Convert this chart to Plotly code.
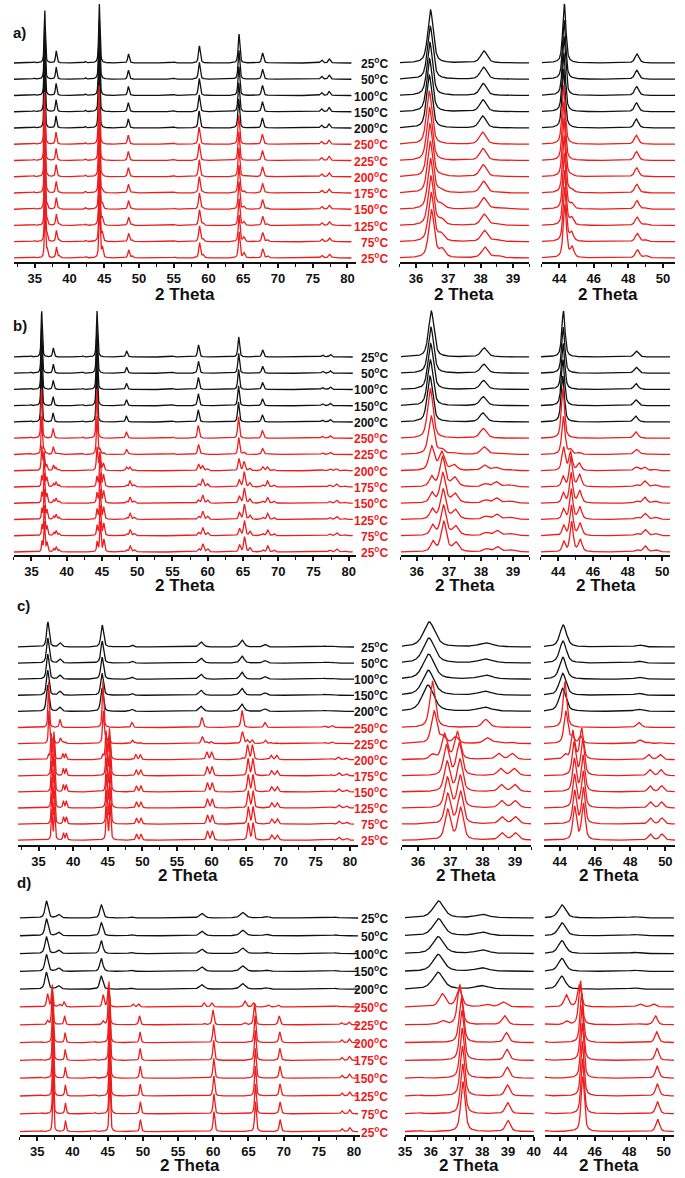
import numpy as np
import plotly.graph_objects as go

W, H = 685, 1178

# ---------------- labels ----------------
HEAT_LABELS = ["25", "50", "100", "150", "200"]
COOL_LABELS = ["250", "225", "200", "175", "150", "125", "75", "25"]

# ---------------- peak tables (2theta, height, fwhm) ----------------
# row a
A_C_POS = [34.9, 36.45, 38.1, 42.3, 44.3, 48.5, 55.1, 58.7, 64.4, 67.8, 76.3, 77.4]
A_C_H   = [1.0, 53, 12, 1.5, 59, 9, 1.0, 17, 29, 10, 3, 4]
A_C_W   = [0.25, 0.2, 0.24, 0.25, 0.22, 0.28, 0.3, 0.3, 0.28, 0.32, 0.35, 0.35]
A_T_POS = [36.78, 38.5, 44.72, 49.0, 59.2, 65.1, 68.5, 78.0]
A_T_H   = [8, 2, 10, 2, 3, 5, 2, 1]
A_T_W   = [0.22, 0.28, 0.25, 0.28, 0.32, 0.32, 0.32, 0.4]
# row b
B_C_POS = [34.9, 36.45, 38.1, 42.3, 44.3, 48.5, 55.1, 58.7, 64.4, 67.8, 76.3, 77.4]
B_C_H   = [1.0, 46, 9, 1.0, 46, 6, 1.0, 12, 20, 7, 2, 2.5]
B_C_W   = [0.25, 0.2, 0.24, 0.25, 0.22, 0.28, 0.3, 0.3, 0.28, 0.32, 0.35, 0.35]
B_T_POS = [36.48, 36.82, 37.2, 38.15, 38.5, 38.9, 44.3, 44.75, 45.25, 48.5, 49.0, 49.6,
           58.7, 59.3, 60.0, 64.5, 65.2, 66.0, 67.8, 68.5, 69.4, 77.3, 78.3, 79.5]
B_T_H   = [10, 30, 9, 3, 5, 2, 10, 30, 12, 2, 6, 2,
           3, 8, 3, 7, 15, 4, 2, 6, 2, 2, 3, 1]
B_T_W   = [0.17, 0.2, 0.22, 0.22, 0.22, 0.27, 0.2, 0.22, 0.25, 0.28, 0.28, 0.32,
           0.32, 0.32, 0.32, 0.32, 0.32, 0.32, 0.32, 0.32, 0.32, 0.4, 0.4, 0.4]
# row c
C_B_POS = [36.35, 38.1, 44.2, 48.5, 58.5, 64.4, 67.7, 76.3, 77.3]
C_B_H   = [25, 4, 22, 2, 5, 7, 2.5, 0.8, 1]
C_B_W   = [0.42, 0.5, 0.45, 0.5, 0.7, 0.7, 0.6, 0.8, 0.8]
C_C_POS = [36.45, 38.1, 44.3, 48.5, 58.6, 64.4, 67.7, 76.3, 77.4]
C_C_H   = [46, 8, 46, 5, 10, 17, 5, 1.5, 2]
C_C_W   = [0.2, 0.25, 0.25, 0.3, 0.35, 0.35, 0.35, 0.4, 0.4]
C_T_POS = [36.92, 37.32, 38.6, 39.02, 44.85, 45.35, 49.15, 49.8, 59.4, 60.1, 65.3, 66.0,
           68.7, 69.5, 77.3, 78.4, 79.5]
C_T_H   = [30, 32, 7, 7, 33, 36, 6, 6, 9, 9, 17, 17, 5, 5, 1, 3, 2]
C_T_W   = [0.2, 0.2, 0.22, 0.22, 0.24, 0.24, 0.28, 0.28, 0.32, 0.32, 0.32, 0.32,
           0.35, 0.35, 0.4, 0.4, 0.4]
# row d
D_B_POS = [36.3, 38.0, 44.1, 48.3, 58.4, 64.2, 67.5, 77.3]
D_B_H   = [17, 3.5, 13, 1.2, 4.5, 5.5, 1.5, 0.8]
D_B_W   = [0.5, 0.6, 0.5, 0.6, 0.8, 0.9, 0.8, 1.0]
D_M_POS = [36.45, 37.1, 38.15, 38.8, 44.35, 45.1, 48.6, 49.4, 58.7, 59.8, 64.5, 65.7,
           67.8, 69.2, 77.5, 78.5]
D_M_H   = [13, 18, 2.5, 5, 12, 22, 3, 3, 4, 4, 6, 4, 2, 2, 1, 1]
D_M_W   = [0.3, 0.25, 0.35, 0.3, 0.3, 0.25, 0.35, 0.3, 0.35, 0.35, 0.4, 0.35,
           0.4, 0.4, 0.5, 0.5]
D_T_POS = [35.6, 37.25, 39.0, 43.2, 45.3, 49.65, 60.1, 66.0, 69.5, 78.3, 79.4]
D_T_H   = [0.8, 50, 11, 1, 55, 12, 20, 30, 12, 3, 4]
D_T_W   = [0.3, 0.2, 0.22, 0.3, 0.22, 0.25, 0.28, 0.28, 0.3, 0.32, 0.32]

PATTERNS = {
    "aC": (A_C_POS, A_C_H, A_C_W), "aT": (A_T_POS, A_T_H, A_T_W),
    "bC": (B_C_POS, B_C_H, B_C_W), "bT": (B_T_POS, B_T_H, B_T_W),
    "cB": (C_B_POS, C_B_H, C_B_W), "cC": (C_C_POS, C_C_H, C_C_W), "cT": (C_T_POS, C_T_H, C_T_W),
    "dB": (D_B_POS, D_B_H, D_B_W), "dM": (D_M_POS, D_M_H, D_M_W), "dT": (D_T_POS, D_T_H, D_T_W),
}

# phase content of each pattern, top (25 C heating) to bottom (25 C cooling): (pattern, weight, shift)
ROW_A_MIX = [[("aC", 1, 0)], [("aC", 1, -0.01)], [("aC", 1, -0.02)], [("aC", 1, -0.03)], [("aC", 1, -0.04)],
             [("aC", 1, -0.04)], [("aC", 1, -0.03)], [("aC", 1, -0.02), ("aT", 0.1, 0)],
             [("aC", 0.97, -0.01), ("aT", 0.3, 0)], [("aC", 0.95, 0), ("aT", 0.5, 0)],
             [("aC", 0.93, 0.01), ("aT", 0.7, 0)], [("aC", 0.92, 0.02), ("aT", 0.85, 0)],
             [("aC", 0.9, 0.03), ("aT", 1.0, 0.03)]]
ROW_B_MIX = [[("bC", 1, 0)], [("bC", 1, -0.01)], [("bC", 1, -0.02)], [("bC", 1, -0.03)], [("bC", 1, -0.04)],
             [("bC", 1.08, -0.03)], [("bC", 0.8, 0), ("bT", 0.15, -0.05)],
             [("bC", 0.4, 0.02), ("bT", 0.6, -0.04)], [("bT", 1, -0.02)], [("bT", 1, -0.01)],
             [("bT", 1, 0)], [("bT", 1, 0.01)], [("bT", 1, 0.02)]]
ROW_C_MIX = [[("cB", 1, 0)], [("cB", 1, -0.01)], [("cB", 1, -0.02)], [("cB", 1, -0.03)], [("cB", 1.05, -0.04)],
             [("cC", 1, 0)], [("cC", 0.7, 0.05), ("cT", 0.2, -0.15)],
             [("cC", 0.1, 0), ("cT", 0.85, -0.1)], [("cT", 1, -0.04)], [("cT", 1, -0.02)],
             [("cT", 1, -0.01)], [("cT", 1, 0)], [("cT", 1, 0)]]
ROW_D_MIX = [[("dB", 1, 0)], [("dB", 1, 0)], [("dB", 1, -0.01)], [("dB", 1, -0.01)], [("dB", 1, -0.02)],
             [("dM", 1, 0)], [("dM", 0.3, 0), ("dT", 0.7, -0.12)],
             [("dT", 0.9, -0.06)], [("dT", 1, -0.04)], [("dT", 1, -0.03)],
             [("dT", 1, -0.02)], [("dT", 1, -0.01)], [("dT", 1, 0)]]

# ---------------- layout constants (pixels) ----------------
ROWS = [
    dict(mix=ROW_A_MIX, axis=262, top=0, base0=63, step=16.25,
         xd=[(7, 356), (401, 533), (546, 682)], xr=[(32, 81.2), (35.5, 39.5), (43, 50.7)],
         title_y=294, tag=("a)", 4, 33)),
    dict(mix=ROW_B_MIX, axis=555, top=296, base0=357, step=16.25,
         xd=[(7, 356), (402, 533), (545, 677)], xr=[(32.5, 81), (35.5, 39.5), (43, 50.45)],
         title_y=585, tag=("b)", 4, 325)),
    dict(mix=ROW_C_MIX, axis=845, top=588, base0=647, step=16.1,
         xd=[(11, 358), (403, 535), (548, 682)], xr=[(32, 81.1), (35.5, 39.5), (43.1, 50.55)],
         title_y=875, tag=("c)", 8, 605)),
    dict(mix=ROW_D_MIX, axis=1135, top=878, base0=918, step=17.8,
         xd=[(13, 360), (406, 538), (549, 681)], xr=[(32.5, 80.8), (34.99, 40.01), (43.1, 50.6)],
         title_y=1165, tag=("d)", 8, 882)),
]
BLACK = "#111111"
RED = "#ee1c1c"
FONT = "Liberation Sans"


def curve(x, parts):
    y = np.zeros_like(x)
    for name, wt, sh in parts:
        pos, hh, ww = PATTERNS[name]
        for p, h, w in zip(pos, hh, ww):
            d = (x - (p + sh)) / w
            y += wt * h * (0.6 / (1 + 4 * d * d) + 0.4 * np.exp(-4 * np.log(2) * d * d))
    return y


fig = go.Figure()
annotations = []
layout = {}
labels = HEAT_LABELS + COOL_LABELS

for r, row in enumerate(ROWS):
    span = row["axis"] - row["top"]
    ydom = [1 - row["axis"] / H, 1 - row["top"] / H]
    for c in range(3):
        idx = r * 3 + c + 1
        xs = "" if idx == 1 else str(idx)
        x0, x1 = row["xr"][c]
        if c == 0:
            xg = np.arange(x0, 80.6, 0.02)
            tk = dict(tick0=35, dtick=5, minor=dict(dtick=2.5, ticklen=3, tickwidth=1.3, ticks="outside", tickcolor=BLACK))
        elif c == 1:
            xg = np.arange(max(x0, 35.0), min(x1, 40.0) + 1e-9, 0.005)
            tk = dict(tick0=35, dtick=1, minor=dict(dtick=0.5, ticklen=3, tickwidth=1.3, ticks="outside", tickcolor=BLACK))
        else:
            xg = np.arange(x0, x1, 0.01)
            tk = dict(tick0=44, dtick=2, minor=dict(dtick=1, ticklen=3, tickwidth=1.3, ticks="outside", tickcolor=BLACK))
        for i, parts in enumerate(row["mix"]):
            base = row["axis"] - (row["base0"] + i * row["step"])
            yv = np.round(curve(xg, parts) + base, 2)
            fig.add_trace(go.Scatter(x=np.round(xg, 3), y=yv, mode="lines",
                                     line=dict(color=BLACK if i < 5 else RED, width=1.3),
                                     xaxis="x" + xs, yaxis="y" + xs, showlegend=False,
                                     hoverinfo="skip"))
            if c == 0:
                annotations.append(dict(text=labels[i] + "<sup>o</sup>C", xref="paper", yref="y" + xs,
                                        x=391 / W, y=base, xanchor="right", yanchor="middle",
                                        showarrow=False,
                                        font=dict(family=FONT, size=12, color=BLACK if i < 5 else RED,
                                                  weight="bold")))
        layout["xaxis" + xs] = dict(domain=[row["xd"][c][0] / W, row["xd"][c][1] / W],
                                    range=[x0, x1], anchor="y" + xs, showline=True, linecolor=BLACK,
                                    linewidth=1.5, ticks="outside", ticklen=4, tickwidth=1.5,
                                    tickcolor=BLACK, showgrid=False, zeroline=False,
                                    tickfont=dict(family=FONT, size=13, color=BLACK, weight="bold"),
                                    fixedrange=True, **tk)
        layout["yaxis" + xs] = dict(domain=ydom, range=[0, span], anchor="x" + xs,
                                    visible=False, showgrid=False, zeroline=False, fixedrange=True)
        cx = (row["xd"][c][0] + row["xd"][c][1]) / 2
        annotations.append(dict(text="2 Theta", xref="paper", yref="paper", x=cx / W,
                                y=1 - row["title_y"] / H, xanchor="center", yanchor="middle",
                                showarrow=False, font=dict(family=FONT, size=17, color=BLACK, weight="bold")))
    t, tx, ty = row["tag"]
    annotations.append(dict(text=t, xref="paper", yref="paper", x=tx / W, y=1 - ty / H,
                            xanchor="left", yanchor="middle", showarrow=False,
                            font=dict(family=FONT, size=15, color=BLACK, weight="bold")))

fig.update_layout(width=W, height=H, autosize=False, margin=dict(l=0, r=0, t=0, b=0),
                  paper_bgcolor="white", plot_bgcolor="white", annotations=annotations, **layout)
fig.write_html("out.html", config={"displayModeBar": False},
               post_script="document.body.style.margin='0px';document.body.style.overflow='hidden';")
